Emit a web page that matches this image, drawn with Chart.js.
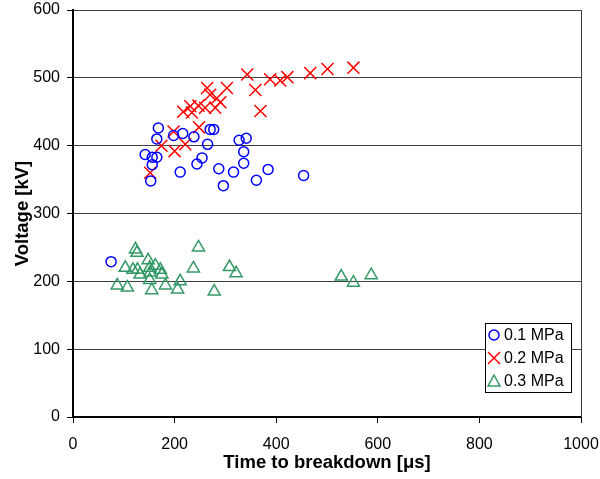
<!DOCTYPE html>
<html lang="en">
<head>
  <meta charset="UTF-8">
  <title>Voltage vs time to breakdown</title>
  <script src="https://cdn.jsdelivr.net/npm/chart.js"></script>
  <style>
    body {
      margin: 0;
      background: #fff;
    }
    #wrap {
      width: 600px;
      height: 479px;
    }
  </style>
</head>
<body>
  <div id="wrap">
    <canvas id="myChart" width="600" height="479"></canvas>
  </div>

  <script>
    // 0.1 MPa
    const time01 = [75, 142, 156, 165, 156, 153, 165, 168, 198, 216, 238, 211, 244, 254, 265, 270, 277, 287, 296, 316, 327, 341, 336, 336, 361, 384, 454];
    const volt01 = [229, 387, 383, 383, 372, 348, 410, 426, 415, 418, 413, 361, 373, 382, 402, 424, 424, 366, 341, 361, 408, 411, 391, 374, 349, 365, 356];

    // 0.2 MPa
    const time02 = [152, 174, 200, 198, 221, 217, 231, 234, 248, 247, 260, 264, 270, 280, 283, 290, 303, 343, 359, 369, 388, 408, 422, 467, 501, 552];
    const volt02 = [360, 400, 392, 421, 402, 450, 458, 449, 427, 459, 456, 485, 475, 456, 470, 464, 485, 505, 482, 451, 498, 496, 501, 507, 513, 515];

    // 0.3 MPa
    const time03 = [87, 103, 107, 118, 123, 126, 127, 132, 148, 151, 151, 152, 155, 162, 172, 175, 182, 206, 211, 237, 247, 278, 308, 321, 528, 552, 587];
    const volt03 = [194, 220, 191, 217, 247, 242, 217, 210, 231, 220, 202, 213, 187, 223, 217, 210, 194, 188, 200, 219, 250, 185, 221, 212, 207, 198, 209];

    const seriesLabels = ['0.1 MPa', '0.2 MPa', '0.3 MPa'];

    const toPoints = (xs, ys) => xs.map((x, i) => ({ x: x, y: ys[i] }));

    const fontFamily = "'Liberation Sans', Arial, sans-serif";

    // рамка области построения + легенда в рамке
    const framePlugin = {
      id: 'frame',
      afterDraw(chart) {
        const c = chart.ctx;
        const a = chart.chartArea;
        c.save();
        c.strokeStyle = '#404040';
        c.lineWidth = 1;
        c.beginPath();
        c.moveTo(Math.round(a.right) + 0.5, a.top);
        c.lineTo(Math.round(a.right) + 0.5, a.bottom);
        c.stroke();

        // легенда
        const bx = 485.5, by = 323.5, bw = 86, bh = 69;
        c.fillStyle = '#fff';
        c.fillRect(bx, by, bw, bh);
        c.strokeStyle = '#000';
        c.strokeRect(bx, by, bw, bh);
        c.font = '16px ' + fontFamily;
        c.textBaseline = 'middle';
        chart.data.datasets.forEach((ds, i) => {
          const y = 335 + i * 23;
          const x = 494;
          c.strokeStyle = ds.borderColor;
          c.lineWidth = 1.5;
          c.beginPath();
          if (ds.pointStyle === 'circle') {
            c.arc(x, y, 5, 0, Math.PI * 2);
          } else if (ds.pointStyle === 'crossRot') {
            c.moveTo(x - 6, y - 6); c.lineTo(x + 6, y + 6);
            c.moveTo(x + 6, y - 6); c.lineTo(x - 6, y + 6);
          } else {
            c.moveTo(x, y - 6); c.lineTo(x + 6, y + 5); c.lineTo(x - 6, y + 5); c.closePath();
          }
          c.stroke();
          c.fillStyle = '#000';
          c.fillText(ds.label, 504, y + 1);
        });
        c.restore();
      }
    };

    const ctx = document.getElementById('myChart').getContext('2d');
    const myChart = new Chart(ctx, {
      type: 'scatter',
      data: {
        datasets: [{
          label: seriesLabels[0],
          data: toPoints(time01, volt01),
          pointStyle: 'circle',
          pointRadius: 5,
          borderColor: '#0000ff',
          backgroundColor: 'rgba(0,0,0,0)',
          borderWidth: 1.5
        }, {
          label: seriesLabels[1],
          data: toPoints(time02, volt02),
          pointStyle: 'crossRot',
          pointRadius: 8.5,
          borderColor: '#ff0000',
          backgroundColor: 'rgba(0,0,0,0)',
          borderWidth: 1.5
        }, {
          label: seriesLabels[2],
          data: toPoints(time03, volt03),
          pointStyle: 'triangle',
          pointRadius: 7,
          borderColor: '#339966',
          backgroundColor: 'rgba(0,0,0,0)',
          borderWidth: 1.5
        }]
      },
      options: {
        responsive: false,
        animation: false,
        layout: {
          padding: { top: 10, right: 19, bottom: 0, left: 0 }
        },
        plugins: {
          legend: { display: false },
          tooltip: { enabled: false }
        },
        scales: {
          x: {
            type: 'linear',
            min: 0,
            max: 1000,
            afterFit: (s) => { s.height = 62; s.paddingLeft = 0; s.paddingRight = 0; },
            ticks: {
              stepSize: 200,
              color: '#000',
              padding: 12,
              maxRotation: 0,
              callback: (v) => String(v),
              font: { family: fontFamily, size: 16 }
            },
            grid: {
              drawOnChartArea: false,
              tickLength: 6,
              tickColor: '#000'
            },
            border: { color: '#000', width: 2 },
            title: {
              display: true,
              text: 'Time to breakdown [μs]',
              color: '#000',
              padding: { top: 0, bottom: 5 },
              font: { family: fontFamily, size: 18.5, weight: 'bold' }
            }
          },
          y: {
            min: 0,
            max: 600,
            afterFit: (s) => { s.width = 73; s.paddingTop = 0; s.paddingBottom = 0; },
            ticks: {
              stepSize: 100,
              color: '#000',
              padding: 7,
              font: { family: fontFamily, size: 16 }
            },
            grid: {
              color: '#404040',
              lineWidth: 1,
              tickLength: 6,
              tickColor: '#000'
            },
            border: { color: '#000', width: 2 },
            title: {
              display: true,
              text: 'Voltage [kV]',
              color: '#000',
              padding: { top: 12, bottom: 0 },
              font: { family: fontFamily, size: 18.5, weight: 'bold' }
            }
          }
        }
      },
      plugins: [framePlugin]
    });
  </script>
</body>
</html>
